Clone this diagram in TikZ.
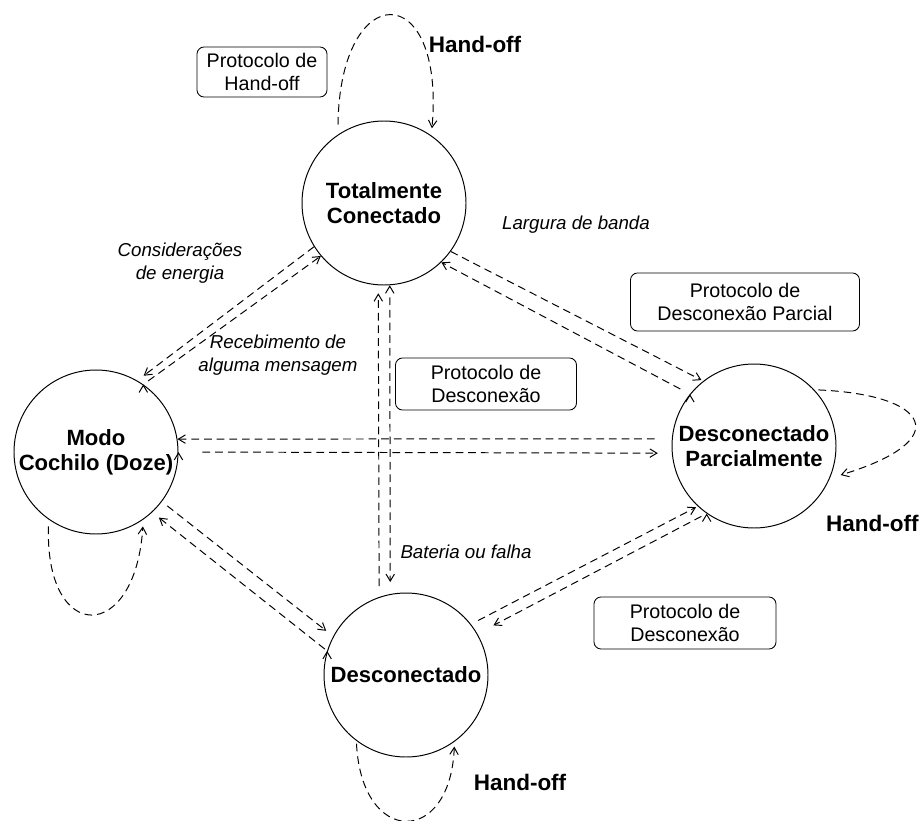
\documentclass[tikz,border=0pt]{standalone}
\usepackage{fontspec}
\setmainfont{Liberation Sans}
\usepackage{tikz}
\usetikzlibrary{automata, positioning, arrows.meta}
\tikzset{
->, % every transition is directed
>={Straight Barb[length=5pt,width=6pt]}, % open heads as in the scan
every state/.style={draw, line width=0.7pt, minimum size=4.1cm, inner sep=0pt, align=center, font=\fontsize{15.7}{17.8}\selectfont\bfseries}, % the four modes
trans/.style={dash pattern=on 5.5pt off 3.5pt, line width=0.7pt}, % dashed transition
proto/.style={draw, rounded corners=5pt, line width=0.6pt, inner sep=0pt, align=center, font=\fontsize{14}{16.4}\selectfont}, % protocol boxes
cond/.style={align=center, font=\fontsize{13.3}{16.4}\selectfont\itshape}, % conditions
hoff/.style={font=\fontsize{16}{19}\selectfont\bfseries}, % hand-off labels
}

\begin{document}
\begin{tikzpicture}[on grid]
    \useasboundingbox (0,0) rectangle (23,-20.525);

    \node[state] (tc) at (9.6,-5.075) {Totalmente\\Conectado};
    \node[state, below left=6.225cm and 7.2cm of tc] (mc) {Modo\\Cochilo (Doze)};
    \node[state, below right=6.075cm and 9.25cm of tc] (dp) {Desconectado\\Parcialmente};
    \node[state, below right=11.8cm and 0.55cm of tc] (dc) {Desconectado};

    \node[proto, minimum width=3.25cm, minimum height=1.25cm] (p1) at (6.55,-1.8) {Protocolo de\\Hand-off};
    \node[proto, minimum width=5.725cm, minimum height=1.45cm] (p2) at (18.625,-7.55) {Protocolo de\\Desconexão Parcial};
    \node[proto, minimum width=4.525cm, minimum height=1.3cm] (p3) at (12.15,-9.6) {Protocolo de\\Desconexão};
    \node[proto, minimum width=4.55cm, minimum height=1.3cm] (p4) at (17.125,-15.575) {Protocolo de\\Desconexão};

    \node[hoff] (h1) at (11.875,-1.1) {Hand-off};
    \node[hoff] (h2) at (21.81,-13.075) {Hand-off};
    \node[hoff] (h3) at (13.0,-19.55) {Hand-off};

    \node[cond] (c1) at (14.4,-5.625) {Largura de banda};
    \node[cond] (c2) at (4.5,-6.575) {Considerações\\de energia};
    \node[cond] (c3) at (6.95,-8.875) {Recebimento de\\alguma mensagem};
    \node[cond] (c4) at (11.65,-13.8) {Bateria ou falha};

    \draw[trans]
    (tc.212) edge[shorten >=0.2cm] (mc.60)
    (mc.55) edge[shorten <=0.15cm] (tc.220);

    \draw[trans]
    (dc.109) edge[shorten <=0.27cm, shorten >=0.2cm] (tc.266.5)
    (tc.274) edge[shorten <=0.3cm, shorten >=0.3cm] (dc.101);

    \draw[trans]
    (tc.324.5) edge[shorten >=0.05cm] (dp.128)
    (dp.141) edge[shorten <=0.27cm] (tc.314.5);

    \draw[trans]
    (dp.175) edge[shorten <=0.43cm] (mc.9)
    (mc.0) edge[shorten <=0.6cm, shorten >=0.35cm] (dp.185);

    \draw[trans]
    (mc.323) edge[shorten <=0.17cm, shorten >=0.22cm] (dc.152)
    (dc.163) edge[shorten <=0.07cm, shorten >=0.21cm] (mc.313);

    \draw[trans]
    (dc.38) edge[shorten <=0.2cm, shorten >=0.05cm] (dp.227)
    (dp.235) edge[shorten <=0.15cm, shorten >=0.45cm] (dc.30);

    % hand-off loops
    \draw[trans, shorten <=0.25cm, shorten >=0.18cm] (tc.124) .. controls +(0.05,3.925) and +(0.35,3.95) .. (tc.55);
    \draw[trans, shorten <=0.17cm, shorten >=0.17cm] (mc.235) .. controls +(-0.1,-3.12) and +(-0.2,-3.12) .. (mc.305);
    \draw[trans, shorten <=0.07cm, shorten >=0.12cm] (dc.233) .. controls +(0.13,-2.64) and +(-0.1,-2.62) .. (dc.306);
    \draw[trans, shorten <=0.1cm, shorten >=0.28cm] (dp.43) .. controls +(2.9,-0.125) and +(3.14,0.95) .. (dp.337);
\end{tikzpicture}
\end{document}
